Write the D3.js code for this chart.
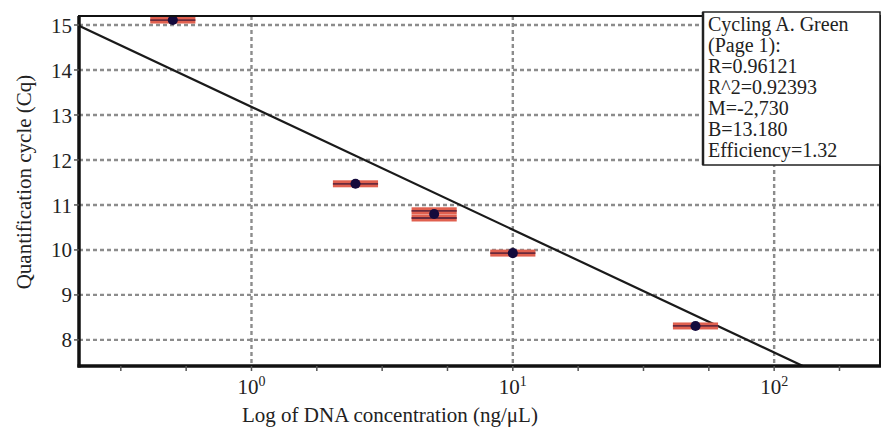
<!DOCTYPE html>
<html>
<head>
<meta charset="UTF-8">
<script src="https://d3js.org/d3.v7.min.js"></script>
<style>
  body { margin: 0; }
  svg text { font-family: "Liberation Serif", "Times New Roman", serif !important; }
</style>
</head>
<body>
<script>
// data
var concentrations = [0.5, 2.5, 5, 10, 50];          // ng/uL
var cqMeans = [15.11, 11.47, 10.80, 9.93, 8.31];
var cqReplicates = [[15.11], [11.47], [10.87, 10.71], [9.93], [8.31]];
var concErrFactor = 1.22;                            // horizontal bar half-width as a factor
var slope = -2.730, intercept = 13.180;
var yTicks = [8, 9, 10, 11, 12, 13, 14, 15];
var xMajorExp = [0, 1, 2];
var xMinorExp = [-0.5, -0.25, 0.25, 0.5, 0.75, 1.25, 1.5, 1.75, 2.25];
var legendLines = ["Cycling A. Green", "(Page 1):", "R=0.96121", "R^2=0.92393",
                   "M=-2,730", "B=13.180", "Efficiency=1.32"];

var width = 888, height = 430;
var margin = {top: 16, right: 8, bottom: 64, left: 79};
var iw = width - margin.left - margin.right,
    ih = height - margin.top - margin.bottom;

var svg = d3.select("body").append("svg")
    .attr("width", width).attr("height", height);

var x = d3.scaleLog().domain([Math.pow(10, -0.66), Math.pow(10, 2.405)]).range([0, iw]);
var y = d3.scaleLinear().domain([7.42, 15.2]).range([ih, 0]);

var g = svg.append("g").attr("transform", `translate(${margin.left},${margin.top})`);

g.append("clipPath").attr("id", "clip")
  .append("rect").attr("width", iw).attr("height", ih);

// grid
var grid = g.append("g")
    .attr("stroke", "#8c8c8c")
    .attr("stroke-width", 2.4)
    .attr("stroke-dasharray", "4,3");
grid.selectAll("line.h").data(yTicks).join("line")
    .attr("x1", 0).attr("x2", iw)
    .attr("y1", d => y(d)).attr("y2", d => y(d));
grid.selectAll("line.v").data(xMajorExp).join("line")
    .attr("x1", d => x(Math.pow(10, d))).attr("x2", d => x(Math.pow(10, d)))
    .attr("y1", 0).attr("y2", ih);

// regression line
var dom = x.domain();
var fit = dom.map(c => ({c: c, cq: slope * Math.log10(c) + intercept}));
var plot = g.append("g").attr("clip-path", "url(#clip)");
plot.append("path")
    .datum(fit)
    .attr("fill", "none")
    .attr("stroke", "#1a1a1a")
    .attr("stroke-width", 2.2)
    .attr("d", d3.line().x(d => x(d.c)).y(d => y(d.cq)));

// horizontal bars for each replicate
concentrations.forEach((c, i) => {
  var bars = plot.append("g");
  cqReplicates[i].forEach(v => {
    var x0 = x(c / concErrFactor), x1 = x(c * concErrFactor);
    bars.append("rect")
        .attr("x", x0).attr("y", y(v) - 3.5)
        .attr("width", x1 - x0).attr("height", 7)
        .attr("fill", "#e0604f");
    bars.append("line")
        .attr("x1", x0).attr("x2", x1)
        .attr("y1", y(v)).attr("y2", y(v))
        .attr("stroke", "#6b2a3c").attr("stroke-width", 1.8);
  });
});

// points
plot.selectAll("path.pt").data(concentrations).join("path")
    .attr("class", "pt")
    .attr("transform", (d, i) => `translate(${x(d)},${y(cqMeans[i])})`)
    .attr("d", d3.symbol().type(d3.symbolCircle).size(80))
    .attr("fill", "#140a3c");

// frame
g.append("rect").attr("width", iw).attr("height", ih)
    .attr("fill", "none").attr("stroke", "#111").attr("stroke-width", 2);
g.append("line").attr("x1", 0).attr("x2", 0).attr("y1", 0).attr("y2", ih + 1.5)
    .attr("stroke", "#111").attr("stroke-width", 3.5);
g.append("line").attr("x1", -1.5).attr("x2", iw + 1).attr("y1", ih).attr("y2", ih)
    .attr("stroke", "#111").attr("stroke-width", 3.5);

// y axis ticks and labels
g.selectAll("line.yt").data(yTicks).join("line")
    .attr("x1", -5).attr("x2", 0)
    .attr("y1", d => y(d)).attr("y2", d => y(d))
    .attr("stroke", "#555").attr("stroke-width", 1.5);
g.selectAll("text.yl").data(yTicks).join("text")
    .attr("x", -7).attr("y", d => y(d)).attr("dy", "0.36em")
    .attr("text-anchor", "end").attr("font-size", 21)
    .text(d => d);

// x axis ticks and labels
g.selectAll("line.xt").data(xMajorExp.concat(xMinorExp)).join("line")
    .attr("x1", d => x(Math.pow(10, d))).attr("x2", d => x(Math.pow(10, d)))
    .attr("y1", ih).attr("y2", ih + 5)
    .attr("stroke", "#555").attr("stroke-width", 1.5);
var xl = g.selectAll("text.xl").data(xMajorExp).join("text")
    .attr("x", d => x(Math.pow(10, d)))
    .attr("y", ih + 28)
    .attr("text-anchor", "middle").attr("font-size", 21);
xl.append("tspan").text("10");
xl.append("tspan").attr("dy", -8).attr("font-size", 14).text(d => d);

// axis titles
svg.append("text")
    .attr("x", margin.left + x(Math.pow(10, 0.53)))
    .attr("y", 422)
    .attr("text-anchor", "middle").attr("font-size", 21)
    .text("Log of DNA concentration (ng/\u03bcL)");
svg.append("text")
    .attr("transform", `translate(31,182) rotate(-90)`)
    .attr("text-anchor", "middle").attr("font-size", 21)
    .text("Quantification cycle (Cq)");

// legend box
var lg = svg.append("g");
lg.append("rect")
    .attr("x", 703).attr("y", 12).attr("width", 177).attr("height", 153)
    .attr("fill", "#fff").attr("stroke", "#222").attr("stroke-width", 1.5);
lg.append("line").attr("x1", 703).attr("x2", 703).attr("y1", 12).attr("y2", 165)
    .attr("stroke", "#222").attr("stroke-width", 2.5);
lg.selectAll("text").data(legendLines).join("text")
    .attr("x", 708).attr("y", (d, i) => 31 + i * 21)
    .attr("font-size", 20)
    .text(d => d);

svg.selectAll("text")
    .style("font-family", d => "'Liberation Serif'")
    .style("fill", "#222");
</script>
</body>
</html>
